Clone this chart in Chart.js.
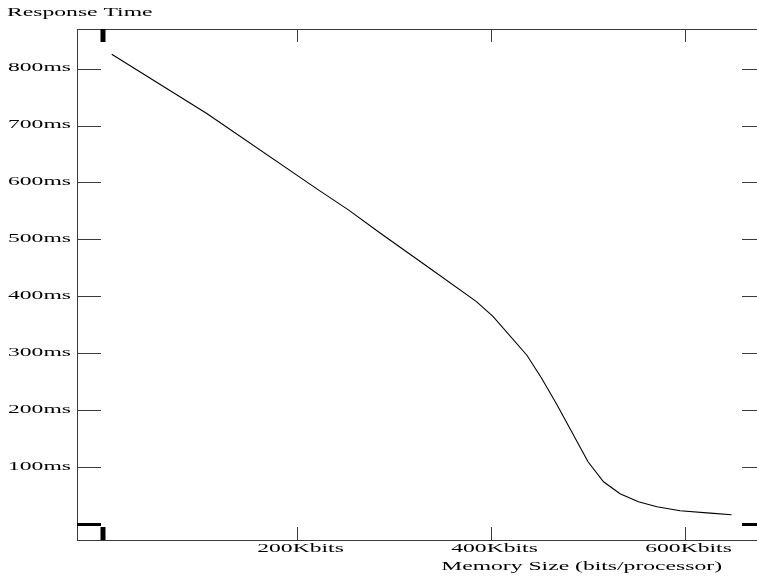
<!DOCTYPE html>
<html>
<head>
<meta charset="utf-8">
<script src="https://cdn.jsdelivr.net/npm/chart.js@4"></script>
<style>
    html, body { margin: 0; padding: 0; background: #fff; }
    #wrap { width: 757px; height: 578px; }
</style>
</head>
<body>
<div id="wrap"><canvas id="chart"></canvas></div>
<script>
// memory size per processor (Kbits) and the measured response time (ms)
const memorySize = [9, 107, 222, 253, 286, 339, 385, 402, 437, 452, 468, 500, 516, 533, 552, 571, 595, 626, 648];
const responseTime = [825, 721, 587, 552, 511, 447, 391, 365, 297, 257, 210, 110, 75, 54, 40, 31, 24, 20, 17];

const xTicks = [0, 200, 400, 600];
const xTickLabels = ["", "200Kbits", "400Kbits", "600Kbits"];
const yTicks = [0, 100, 200, 300, 400, 500, 600, 700, 800];
const yTickLabels = ["", "100ms", "200ms", "300ms", "400ms", "500ms", "600ms", "700ms", "800ms"];

const xTitle = "Memory Size (bits/processor)";
const yTitle = "Response Time";

const FONT = "13.5px 'Liberation Serif', 'DejaVu Serif', serif";
const STRETCH = 1.75;

function stretchedText(ctx, text, x, y, align) {
    ctx.save();
    ctx.translate(x, y);
    ctx.scale(STRETCH, 1);
    ctx.font = FONT;
    ctx.fillStyle = "#000";
    ctx.textAlign = align;
    ctx.textBaseline = "alphabetic";
    ctx.fillText(text, 0, 0);
    ctx.restore();
}

const framePlugin = {
    id: "frame",
    afterDatasetsDraw(chart) {
        const ctx = chart.ctx;
        const area = chart.chartArea;
        const xs = chart.scales.x;
        const ys = chart.scales.y;
        const W = chart.width;

        ctx.save();
        ctx.strokeStyle = "#3a3a3a";
        ctx.lineWidth = 1;

        // axis lines: left, top, bottom
        ctx.beginPath();
        ctx.moveTo(area.left + 0.5, area.top);
        ctx.lineTo(area.left + 0.5, area.bottom + 1);
        ctx.moveTo(area.left, area.top + 0.5);
        ctx.lineTo(W, area.top + 0.5);
        ctx.moveTo(area.left, area.bottom + 0.5);
        ctx.lineTo(W, area.bottom + 0.5);
        ctx.stroke();

        // y ticks, left and right
        yTicks.forEach((v, i) => {
            const py = ys.getPixelForValue(v);
            if (v === 0) {
                ctx.fillStyle = "#000";
                ctx.fillRect(area.left, py - 1.5, 24, 3);
                ctx.fillRect(W - 15, py - 1.5, 15, 3);
            } else {
                const y = Math.round(py) + 0.5;
                ctx.beginPath();
                ctx.moveTo(area.left, y);
                ctx.lineTo(area.left + 24, y);
                ctx.moveTo(W - 15, y);
                ctx.lineTo(W, y);
                ctx.stroke();
                stretchedText(ctx, yTickLabels[i], 71, py + 2.5, "right");
            }
        });

        // x ticks, bottom and top
        xTicks.forEach((v, i) => {
            const px = xs.getPixelForValue(v);
            if (v === 0) {
                ctx.fillStyle = "#000";
                ctx.fillRect(px - 2.5, area.top, 5, 13);
                ctx.fillRect(px - 2.5, area.bottom - 13, 5, 13);
            } else {
                const x = Math.round(px) + 0.5;
                ctx.beginPath();
                ctx.moveTo(x, area.bottom);
                ctx.lineTo(x, area.bottom - 13);
                ctx.moveTo(x, area.top);
                ctx.lineTo(x, area.top + 13);
                ctx.stroke();
                stretchedText(ctx, xTickLabels[i], px + 3.5, area.bottom + 12, "center");
            }
        });

        stretchedText(ctx, yTitle, 7, 16, "left");
        stretchedText(ctx, xTitle, 722, 570, "right");
        ctx.restore();
    }
};

const points = memorySize.map((m, i) => ({ x: m, y: responseTime[i] }));

new Chart(document.getElementById("chart"), {
    type: "scatter",
    data: {
        datasets: [{
            data: points,
            showLine: true,
            borderColor: "#000",
            borderWidth: 1.1,
            pointRadius: 0,
            tension: 0,
        }]
    },
    options: {
        responsive: true,
        maintainAspectRatio: false,
        animation: false,
        layout: {
            padding: { left: 77, top: 29, right: 0, bottom: 38 }
        },
        plugins: {
            legend: { display: false },
            tooltip: { enabled: false },
        },
        scales: {
            x: { type: "linear", display: false, min: -26.8, max: 674.2 },
            y: { type: "linear", display: false, min: -27.2, max: 869.3 },
        }
    },
    plugins: [framePlugin]
});
</script>
</body>
</html>
